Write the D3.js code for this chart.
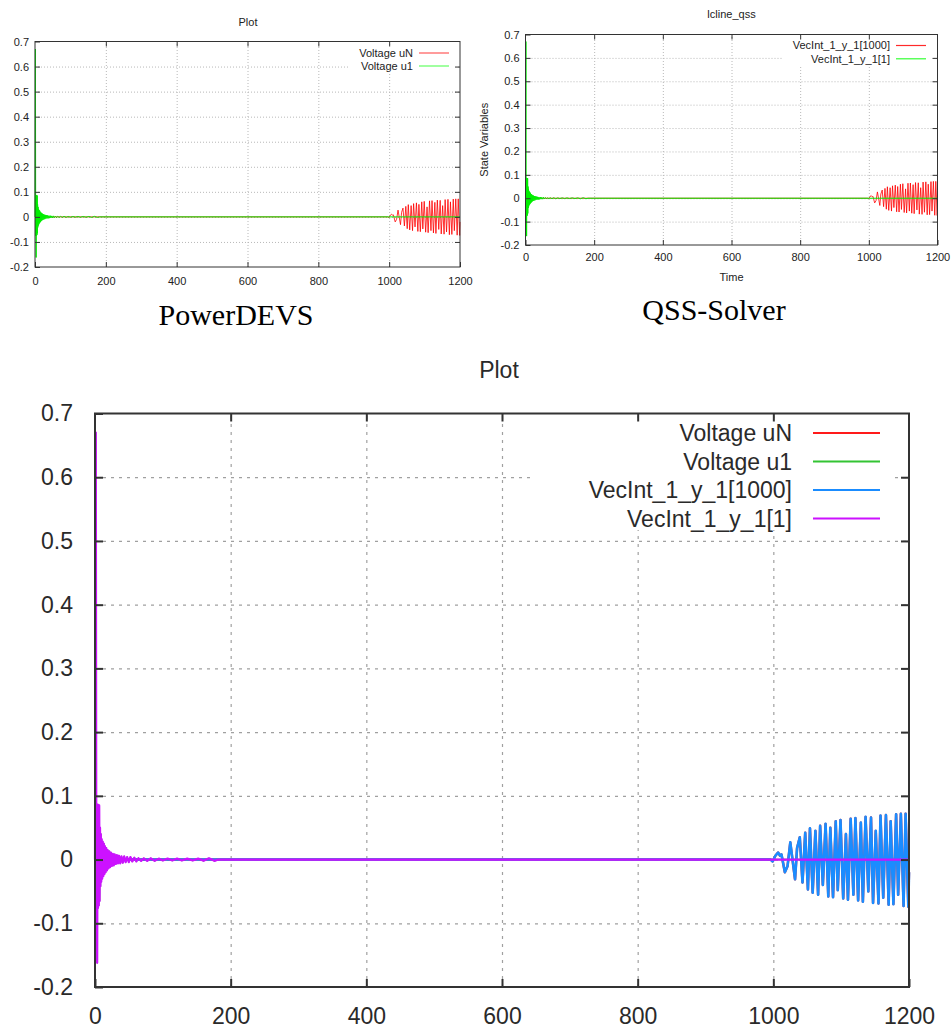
<!DOCTYPE html>
<html>
<head>
<meta charset="utf-8">
<script src="https://cdn.jsdelivr.net/npm/d3@7"></script>
<style>
  body { margin: 0; background: #fff; }
  svg { display: block; }
</style>
</head>
<body>
<div id="chart"></div>
<script>
// tick values shared by the three gnuplot panels
const xTicks = [0, 200, 400, 600, 800, 1000, 1200]
const yTicks = [-0.2, -0.1, 0, 0.1, 0.2, 0.3, 0.4, 0.5, 0.6, 0.7]

// u1: kick at t=0 then ringing that dies out by ~180 (extrema)
const u1 = [
  [0, 0], [1.2, 0.67], [2.0, -0.075], [2.6, 0.087], [3.2, -0.162], [3.8, 0.086], [4.4, -0.076],
  [5.0, 0.086], [5.6, -0.072], [6.2, 0.085], [6.8, -0.065], [7.4, 0.05], [8.0, -0.042],
  [8.6, 0.04], [9.2, -0.035], [9.8, 0.032], [10.6, -0.03], [11.4, 0.028], [12.2, -0.026],
  [13.0, 0.025], [13.8, -0.023], [14.6, 0.021], [15.6, -0.02], [16.6, 0.018], [17.6, -0.017],
  [18.6, 0.015], [19.8, -0.014], [21.0, 0.013], [22.2, -0.012], [23.4, 0.011], [24.8, -0.01],
  [26.2, 0.009], [27.6, -0.009], [29.0, 0.008], [30.6, -0.007], [32.2, 0.007], [33.8, -0.006],
  [35.4, 0.006], [37.2, -0.006], [39.0, 0.005], [41.0, -0.005], [43.0, 0.005], [45.2, -0.004],
  [47.4, 0.004], [49.8, -0.004], [52.2, 0.004], [55, -0.003], [58, 0.003], [61, -0.003],
  [64, 0.002], [68, -0.002], [72, 0.002], [77, -0.002], [82, 0.002], [88, -0.002],
  [94, 0.0015], [100, -0.0015], [107, 0.0015], [114, -0.0015], [121, 0.0015], [128, -0.0015],
  [136, 0.0015], [144, -0.0015], [152, 0.0015], [160, -0.002], [168, 0.002], [176, -0.002],
  [182, 0], [1200, 0]
]

// uN: flat until the wave arrives at ~1000, then a growing oscillation
const uN = [
  [0, 0], [996, 0], [999, -0.003], [1003, 0.006], [1007, 0.011], [1010, 0.006], [1012, 0.008],
  [1017, -0.02], [1021, -0.01], [1025, 0.027], [1032, -0.031], [1035, 0.018], [1039, 0.035],
  [1043, -0.036], [1047, 0.042], [1051, -0.047], [1054, 0.049], [1058, -0.052], [1062, 0.045],
  [1066, -0.055], [1069, 0.053], [1073, -0.04], [1077, 0.056], [1081, -0.058], [1084, 0.05],
  [1088, -0.059], [1092, 0.06], [1095, -0.048], [1099, 0.062], [1103, -0.061], [1107, 0.04],
  [1110, -0.063], [1114, 0.064], [1118, -0.055], [1121, 0.065], [1125, -0.064], [1129, 0.058],
  [1132, -0.066], [1136, 0.067], [1140, -0.05], [1144, 0.066], [1147, -0.068], [1151, 0.045],
  [1155, -0.069], [1158, 0.069], [1162, -0.06], [1166, 0.07], [1170, -0.071], [1173, 0.06],
  [1177, -0.07], [1181, 0.071], [1184, -0.055], [1188, 0.072], [1192, -0.073], [1195, 0.072],
  [1199, -0.074], [1200, -0.02]
]

const powerdevsNames = ["Voltage uN", "Voltage u1"]
const qssNames = ["VecInt_1_y_1[1000]", "VecInt_1_y_1[1]"]

const svg = d3.select("#chart").append("svg")
  .attr("width", 952)
  .attr("height", 1028)
  .style("font-family", "'Liberation Sans', Arial, sans-serif")

function panel(o) {
  const x = d3.scaleLinear().domain([0, 1200]).range([o.left, o.right])
  const y = d3.scaleLinear().domain([-0.2, 0.7]).range([o.bottom, o.top])
  const g = svg.append("g")

  // grid
  g.append("g")
    .attr("transform", `translate(0,${o.bottom})`)
    .call(d3.axisBottom(x).tickValues(xTicks.slice(1, -1)).tickSize(-(o.bottom - o.top)).tickFormat(""))
    .call(a => a.select(".domain").remove())
    .selectAll("line").attr("stroke", o.gridColor).attr("stroke-dasharray", o.gridDash).attr("stroke-width", o.gridWidth)
  g.append("g")
    .attr("transform", `translate(${o.left},0)`)
    .call(d3.axisLeft(y).tickValues(yTicks.slice(1, -1)).tickSize(-(o.right - o.left)).tickFormat(""))
    .call(a => a.select(".domain").remove())
    .selectAll("line").attr("stroke", o.gridColor).attr("stroke-dasharray", o.gridDash).attr("stroke-width", o.gridWidth)

  // key box hides the grid
  g.append("rect")
    .attr("x", o.key.box[0]).attr("y", o.key.box[1])
    .attr("width", o.key.box[2]).attr("height", o.key.box[3])
    .attr("fill", "#fff")

  const line = d3.line().x(d => x(d[0])).y(d => y(d[1]))
  o.series.forEach(s => {
    g.append("path")
      .datum(s.data)
      .attr("d", line)
      .attr("fill", "none")
      .attr("stroke", s.color)
      .attr("stroke-width", s.width)
      .attr("stroke-linejoin", "round")
  })

  // frame + inward ticks on all four sides
  g.append("rect")
    .attr("x", o.left).attr("y", o.top)
    .attr("width", o.right - o.left).attr("height", o.bottom - o.top)
    .attr("fill", "none").attr("stroke", o.frameColor).attr("stroke-width", o.frameWidth)

  const styleAxis = a => {
    a.select(".domain").remove()
    a.selectAll("line").attr("stroke", o.frameColor).attr("stroke-width", o.frameWidth)
    a.selectAll("text").attr("fill", o.textColor).style("font-size", o.font + "px").attr("font-family", null)
  }
  g.append("g").attr("transform", `translate(${o.left},0)`)
    .call(d3.axisLeft(y).tickValues(yTicks).tickSize(-o.tick).tickPadding(o.yPad).tickFormat(d => String(d)))
    .call(styleAxis)
  g.append("g").attr("transform", `translate(${o.right},0)`)
    .call(d3.axisRight(y).tickValues(yTicks.slice(1, -1)).tickSize(-o.tick).tickFormat(""))
    .call(styleAxis)
  g.append("g").attr("transform", `translate(0,${o.bottom})`)
    .call(d3.axisBottom(x).tickValues(xTicks).tickSize(-o.tick).tickPadding(o.xPad).tickFormat(d => String(d)))
    .call(styleAxis)
  g.append("g").attr("transform", `translate(0,${o.top})`)
    .call(d3.axisTop(x).tickValues(xTicks.slice(1, -1)).tickSize(-o.tick).tickFormat(""))
    .call(styleAxis)

  // titles / labels
  const txt = (t, tx, ty, size) => g.append("text")
    .attr("x", tx).attr("y", ty)
    .attr("text-anchor", "middle")
    .attr("fill", o.textColor)
    .style("font-size", size + "px")
    .text(t)
  txt(o.title, o.titleX, o.titleY, o.font)
  if (o.xLabel) txt(o.xLabel, (o.left + o.right) / 2, o.xLabelY, o.font)
  if (o.yLabel) txt(o.yLabel, 0, 0, o.font).attr("transform", `translate(${o.yLabelX},${(o.top + o.bottom) / 2}) rotate(-90)`)

  // key
  o.series.forEach((s, i) => {
    const ky = o.key.y0 + i * o.key.step
    g.append("text")
      .attr("x", o.key.textRight).attr("y", ky).attr("dy", "0.35em")
      .attr("text-anchor", "end")
      .attr("fill", o.textColor)
      .style("font-size", o.font + "px")
      .text(s.name)
    g.append("line")
      .attr("x1", o.key.x1).attr("x2", o.key.x2)
      .attr("y1", ky).attr("y2", ky)
      .attr("stroke", s.keyColor)
      .attr("stroke-width", s.keyWidth)
  })

  if (o.caption) {
    svg.append("text")
      .attr("x", o.caption.x).attr("y", o.caption.y)
      .attr("text-anchor", "middle")
      .attr("fill", "#000")
      .style("font-family", "'Liberation Serif', 'DejaVu Serif', serif")
      .style("font-size", "30px")
      .text(o.caption.text)
  }
}

const smallStyle = {
  font: 11, tick: 5, yPad: 6, frameColor: "#333", frameWidth: 1, textColor: "#222",
  gridColor: "#b8b8b8", gridDash: "1,2", gridWidth: 1
}

// PowerDEVS
panel(Object.assign({}, smallStyle, {
  left: 35, right: 460, top: 41.5, bottom: 267, xPad: 10,
  title: "Plot", titleX: 248, titleY: 26,
  key: { box: [350, 45, 106, 27], textRight: 413, x1: 419, x2: 449, y0: 53, step: 13 },
  series: [
    { data: uN, color: "#ff0000", width: 0.8, name: powerdevsNames[0], keyColor: "#ff7a7a", keyWidth: 1.5 },
    { data: u1, color: "#00ee00", width: 1, name: powerdevsNames[1], keyColor: "#80ff80", keyWidth: 1.5 }
  ],
  caption: { text: "PowerDEVS", x: 236, y: 325 }
}))

// QSS-Solver
panel(Object.assign({}, smallStyle, {
  left: 525.5, right: 937.5, top: 34.5, bottom: 245, xPad: 8.5,
  title: "lcline_qss", titleX: 731.5, titleY: 17.5,
  xLabel: "Time", xLabelY: 280.5,
  yLabel: "State Variables", yLabelX: 487.5,
  key: { box: [782, 37, 152, 29], textRight: 890, x1: 896, x2: 926, y0: 45.5, step: 13.3 },
  series: [
    { data: uN, color: "#ff0000", width: 0.8, name: qssNames[0], keyColor: "#ff2a2a", keyWidth: 1.2 },
    { data: u1, color: "#00ee00", width: 1, name: qssNames[1], keyColor: "#33ff33", keyWidth: 1.2 }
  ],
  caption: { text: "QSS-Solver", x: 714, y: 320 }
}))

// combined plot
panel({
  left: 95, right: 909, top: 413.5, bottom: 987,
  font: 23, tick: 8, yPad: 22, xPad: 21, frameColor: "#333", frameWidth: 2, textColor: "#2a2a2a",
  gridColor: "#a0a0a0", gridDash: "3,5", gridWidth: 1.2,
  title: "Plot", titleX: 499, titleY: 378,
  key: { box: [530, 418, 363, 112], textRight: 792, x1: 813, x2: 880, y0: 433, step: 28.5 },
  series: [
    { data: uN, color: "#ff1a1a", width: 2.4, name: powerdevsNames[0], keyColor: "#ff1a1a", keyWidth: 2 },
    { data: u1, color: "#33c433", width: 1.4, name: powerdevsNames[1], keyColor: "#33c433", keyWidth: 2 },
    { data: uN, color: "#1a8cff", width: 2.6, name: qssNames[0], keyColor: "#1a8cff", keyWidth: 2 },
    { data: u1, color: "#cc11ff", width: 2.2, name: qssNames[1], keyColor: "#cc11ff", keyWidth: 2 }
  ]
})
</script>
</body>
</html>
